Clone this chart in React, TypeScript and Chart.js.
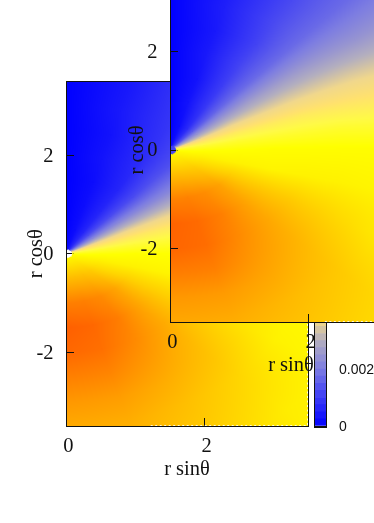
import React, { useEffect, useRef } from "react";
import { Chart, registerables } from "chart.js";

Chart.register(...registerables);

// polar sampling of the two fields (value in units of 1e-3)
const radii = [0.1, 0.5, 1, 1.5, 2, 2.5, 3, 3.5, 4.5, 5.5];
const thetas = [0, 15, 30, 40, 50, 60, 70, 80, 90, 105, 120, 135, 150, 165, 180];

const fieldA = [
  [0, 0.2, 0.7, 1.2, 2.0, 3.1, 4.3, 5.1, 5.6, 6.0, 6.1, 6.2, 6.2, 6.2, 6.2],
  [0, 0.2, 0.6, 1.2, 2.1, 3.3, 4.4, 5.2, 5.7, 6.3, 7.0, 7.8, 8.2, 8.3, 8.3],
  [0, 0.2, 0.6, 1.2, 2.2, 3.4, 4.5, 5.2, 5.8, 6.3, 7.6, 9.2, 10.2, 10.6, 10.6],
  [0, 0.2, 0.6, 1.2, 2.2, 3.4, 4.5, 5.2, 5.8, 6.2, 7.6, 9.2, 10.7, 11.5, 11.8],
  [0, 0.3, 0.7, 1.3, 2.2, 3.4, 4.4, 5.2, 5.8, 6.2, 7.5, 9.0, 10.2, 11.2, 11.5],
  [0, 0.3, 0.8, 1.3, 2.2, 3.3, 4.3, 5.2, 5.8, 6.1, 7.2, 8.5, 9.5, 10.4, 10.6],
  [0, 0.4, 0.9, 1.4, 2.1, 3.1, 4.2, 5.1, 5.8, 6.0, 6.8, 8.0, 8.8, 9.5, 9.7],
  [0, 0.4, 1.0, 1.5, 2.1, 3.0, 4.1, 5.0, 5.8, 5.9, 6.3, 7.4, 8.2, 8.9, 9.0],
  [0, 0.5, 1.1, 1.6, 2.1, 2.9, 3.9, 4.9, 5.8, 5.8, 6.0, 6.5, 7.5, 8.0, 8.2],
  [0, 0.5, 1.1, 1.6, 2.1, 2.8, 3.8, 4.8, 5.8, 5.8, 5.9, 6.2, 7.0, 7.5, 7.6],
];

const fieldB = [
  [0, 0.2, 0.8, 1.3, 2.2, 3.2, 4.4, 5.2, 5.6, 6.0, 6.1, 6.2, 6.2, 6.2, 6.2],
  [0, 0.2, 0.7, 1.4, 2.4, 3.4, 4.5, 5.2, 5.7, 6.3, 7.0, 7.7, 8.0, 8.2, 8.2],
  [0, 0.3, 0.9, 1.6, 2.6, 3.6, 4.6, 5.3, 5.8, 6.3, 7.7, 9.3, 10.1, 10.5, 10.5],
  [0, 0.3, 1.0, 1.7, 2.7, 3.6, 4.6, 5.3, 5.9, 6.2, 7.8, 9.3, 10.6, 11.4, 11.7],
  [0, 0.4, 1.1, 1.7, 2.7, 3.6, 4.6, 5.3, 5.9, 6.3, 7.8, 9.1, 10.2, 11.3, 11.6],
  [0, 0.4, 1.1, 1.7, 2.65, 3.55, 4.5, 5.3, 5.9, 6.3, 7.5, 8.7, 9.6, 10.6, 10.7],
  [0, 0.5, 1.2, 1.7, 2.55, 3.5, 4.4, 5.2, 5.9, 6.2, 7.1, 8.2, 9.0, 9.6, 9.7],
  [0, 0.5, 1.2, 1.7, 2.45, 3.4, 4.3, 5.1, 5.9, 6.1, 6.6, 7.8, 8.4, 9.0, 9.1],
  [0, 0.6, 1.3, 1.7, 2.4, 3.2, 4.2, 5.0, 5.9, 6.0, 6.2, 7.1, 7.7, 8.0, 8.1],
  [0, 0.6, 1.3, 1.7, 2.3, 3.0, 4.0, 4.9, 5.9, 6.0, 6.1, 6.6, 7.1, 7.4, 7.5],
];

// palette
const paletteValues = [0, 1, 2, 3, 3.7, 4.3, 5, 5.8, 12];
const paletteColors = [
  [0, 0, 255],
  [60, 60, 245],
  [125, 125, 225],
  [180, 175, 190],
  [240, 215, 140],
  [255, 225, 110],
  [255, 250, 70],
  [255, 255, 0],
  [255, 90, 0],
];

// colour bar segments, upper edges in data units
const barEdges = [
  0.00025, 0.0005, 0.00075, 0.001, 0.00125, 0.0015, 0.00175, 0.002, 0.00225, 0.0025, 0.00275, 0.003,
  0.00325, 0.0035, 0.00375, 0.004, 0.00425, 0.0045, 0.00475, 0.005, 0.00525, 0.0055, 0.00575, 0.006,
  0.00625, 0.0065, 0.00675, 0.007, 0.00725, 0.0075, 0.00775, 0.008, 0.00825, 0.0085, 0.00875, 0.009,
  0.00925, 0.0095, 0.00975, 0.01, 0.01025, 0.0105, 0.01075, 0.011, 0.01125, 0.0115, 0.01175, 0.0121,
];

const xTicks = [0, 2];
const yTicks = [-2, 0, 2];
const barTicks = [0, 0.002, 0.004, 0.006, 0.008, 0.01, 0.012];
const axisLabelX = "r sinθ";
const axisLabelY = "r cosθ";
const holeRadius = 0.1;

const SERIF = "'Liberation Serif', serif";
const SANS = "'Liberation Sans', sans-serif";
const INK = "#111";

function paletteRgb(v: number) {
  const n = paletteValues.length;
  if (v <= paletteValues[0]) return paletteColors[0];
  if (v >= paletteValues[n - 1]) return paletteColors[n - 1];
  let i = 0;
  while (paletteValues[i + 1] < v) i++;
  const t = (v - paletteValues[i]) / (paletteValues[i + 1] - paletteValues[i]);
  return paletteColors[i].map((c, k) => c + (paletteColors[i + 1][k] - c) * t);
}
const cssColor = (v: number) => {
  const c = paletteRgb(v);
  return `rgb(${Math.round(c[0])},${Math.round(c[1])},${Math.round(c[2])})`;
};

function bracket(list: number[], v: number): [number, number] {
  if (v <= list[0]) return [0, 0];
  const n = list.length;
  if (v >= list[n - 1]) return [n - 2, 1];
  let i = 0;
  while (list[i + 1] < v) i++;
  return [i, (v - list[i]) / (list[i + 1] - list[i])];
}

function sampleField(table: number[][], r: number, th: number) {
  const [i, u] = bracket(radii, r);
  const [j, w] = bracket(thetas, th);
  const a = table[i][j] * (1 - w) + table[i][j + 1] * w;
  const b = table[i + 1][j] * (1 - w) + table[i + 1][j + 1] * w;
  return a * (1 - u) + b * u;
}

const fieldPlugin = {
  id: "field",
  beforeDraw(chart: any, _args: any, opts: any) {
    const { chartArea: a, scales, ctx } = chart;
    const l = Math.round(a.left);
    const t = Math.round(a.top);
    const w = Math.round(a.right) - l;
    const h = Math.round(a.bottom) - t;
    const off = document.createElement("canvas");
    off.width = w;
    off.height = h;
    const oc = off.getContext("2d")!;
    const img = oc.createImageData(w, h);
    for (let py = 0; py < h; py++) {
      const y = scales.y.getValueForPixel(t + py + 0.5);
      for (let px = 0; px < w; px++) {
        const x = scales.x.getValueForPixel(l + px + 0.5);
        const r = Math.hypot(x, y);
        const k = (py * w + px) * 4;
        if (r < holeRadius) continue;
        const th = (Math.atan2(x, y) * 180) / Math.PI;
        const c = paletteRgb(sampleField(opts.table, r, th));
        img.data[k] = c[0];
        img.data[k + 1] = c[1];
        img.data[k + 2] = c[2];
        img.data[k + 3] = 255;
      }
    }
    oc.putImageData(img, 0, 0);
    ctx.drawImage(off, l, t);
  },
  afterDatasetsDraw(chart: any, _args: any, opts: any) {
    const { chartArea: a, ctx } = chart;
    const l = Math.round(a.left);
    const r = Math.round(a.right);
    const t = Math.round(a.top);
    const b = Math.round(a.bottom);
    ctx.save();
    ctx.strokeStyle = "rgba(255,255,255,0.85)";
    ctx.lineWidth = 1;
    ctx.setLineDash([2, 2.5]);
    ctx.beginPath();
    ctx.moveTo(r - 0.5, t);
    ctx.lineTo(r - 0.5, b);
    ctx.moveTo(l + (r - l) * opts.dashFrom, b - 0.5);
    ctx.lineTo(r, b - 0.5);
    ctx.stroke();
    ctx.restore();
  },
};

const framePlugin = {
  id: "frame",
  afterDraw(chart: any) {
    const { chartArea: a, ctx } = chart;
    ctx.save();
    ctx.strokeStyle = INK;
    ctx.lineWidth = 1;
    ctx.strokeRect(Math.round(a.left) + 0.5, Math.round(a.top) + 0.5, Math.round(a.right - a.left), Math.round(a.bottom - a.top));
    ctx.restore();
  },
};

function nodes(table: number[][]) {
  const data: { x: number; y: number }[] = [];
  const colors: string[] = [];
  radii.forEach((r, i) =>
    thetas.forEach((deg, j) => {
      const rad = (deg * Math.PI) / 180;
      data.push({ x: r * Math.sin(rad), y: r * Math.cos(rad) });
      colors.push(cssColor(table[i][j]));
    })
  );
  return { data, colors };
}

function fieldConfig(table: number[][], g: any) {
  const n = nodes(table);
  const font = { family: SERIF, size: 20.5 };
  return {
    type: "scatter",
    data: {
      datasets: [
        {
          data: n.data,
          pointBackgroundColor: n.colors,
          pointBorderWidth: 0,
          pointRadius: 1,
          pointStyle: "rect",
        },
      ],
    },
    plugins: [fieldPlugin, framePlugin],
    options: {
      responsive: false,
      animation: false,
      devicePixelRatio: 1,
      events: [],
      layout: { padding: { left: 0, top: g.top, right: g.right, bottom: 0 } },
      plugins: { legend: { display: false }, tooltip: { enabled: false }, title: { display: false }, field: { table, dashFrom: g.dashFrom } },
      scales: {
        x: {
          type: "linear",
          min: 0,
          max: 3.5,
          afterFit: (s: any) => { s.height = g.bottomH; },
          afterBuildTicks: (s: any) => { s.ticks = xTicks.map((value) => ({ value })); },
          grid: { drawOnChartArea: false, tickLength: -8, color: INK, lineWidth: 1 },
          border: { color: INK, width: 1 },
          ticks: { font, color: "#111", padding: 16.5, maxRotation: 0, labelOffset: 2.3, autoSkip: false, includeBounds: false },
          title: { display: true, text: axisLabelX, font, color: "#111", padding: { top: 0, bottom: g.xTitle } },
        },
        y: {
          type: "linear",
          min: -3.5,
          max: 3.5,
          afterFit: (s: any) => { s.width = g.leftW; },
          afterBuildTicks: (s: any) => { s.ticks = yTicks.map((value) => ({ value })); },
          grid: { drawOnChartArea: false, tickLength: -8, color: INK, lineWidth: 1 },
          border: { color: INK, width: 1 },
          ticks: { font, color: "#111", padding: 20.5, labelOffset: 1, autoSkip: false, includeBounds: false },
          title: { display: true, text: axisLabelY, font, color: "#111", padding: { top: g.yTitle, bottom: 0 } },
        },
      },
    },
  };
}

function barConfig() {
  let lo = 0;
  const datasets = barEdges.map((hi) => {
    const seg = { data: [[lo, hi]], backgroundColor: cssColor(((lo + hi) / 2) * 1000), borderWidth: 0, barPercentage: 1, categoryPercentage: 1, grouped: false };
    lo = hi;
    return seg;
  });
  return {
    type: "bar",
    data: { labels: ["c"], datasets },
    plugins: [framePlugin],
    options: {
      responsive: false,
      animation: false,
      devicePixelRatio: 1,
      events: [],
      layout: { padding: { left: 314, top: 81.5, right: 0, bottom: 97 } },
      plugins: { legend: { display: false }, tooltip: { enabled: false } },
      scales: {
        x: { display: false, offset: true },
        y: {
          position: "right",
          min: 0,
          max: 0.0121,
          afterFit: (s: any) => { s.width = 48; },
          afterBuildTicks: (s: any) => { s.ticks = barTicks.map((value) => ({ value })); },
          grid: { drawOnChartArea: false, tickLength: -12, color: INK, lineWidth: 1 },
          border: { color: INK, width: 1 },
          ticks: { font: { family: SANS, size: 14 }, color: "#111", padding: 25, labelOffset: 1, autoSkip: false, callback: (v: number) => String(v) },
        },
      },
    },
  };
}

function Panel({ config, left, top, width, height }: any) {
  const ref = useRef<HTMLCanvasElement>(null);
  useEffect(() => {
    const chart = new Chart(ref.current!, config());
    return () => chart.destroy();
  }, []);
  return <canvas ref={ref} width={width} height={height} style={{ position: "absolute", left, top, width, height }} />;
}

export default function App() {
  return (
    <div style={{ position: "fixed", left: 0, top: 0, width: 374, height: 523, overflow: "hidden", background: "#fff" }}>
      <Panel
        left={0}
        top={0}
        width={374}
        height={523}
        config={() => fieldConfig(fieldA, { top: 81.4, right: 66, leftW: 66, bottomH: 97, xTitle: 40.7, yTitle: 24.7, dashFrom: 0.35 })}
      />
      <Panel left={0} top={0} width={374} height={523} config={barConfig} />
      <Panel
        left={0}
        top={-100}
        width={440}
        height={600}
        config={() => fieldConfig(fieldB, { top: 78, right: 28, leftW: 170, bottomH: 178, xTitle: 121.7, yTitle: 125.7, dashFrom: 0.64 })}
      />
    </div>
  );
}
